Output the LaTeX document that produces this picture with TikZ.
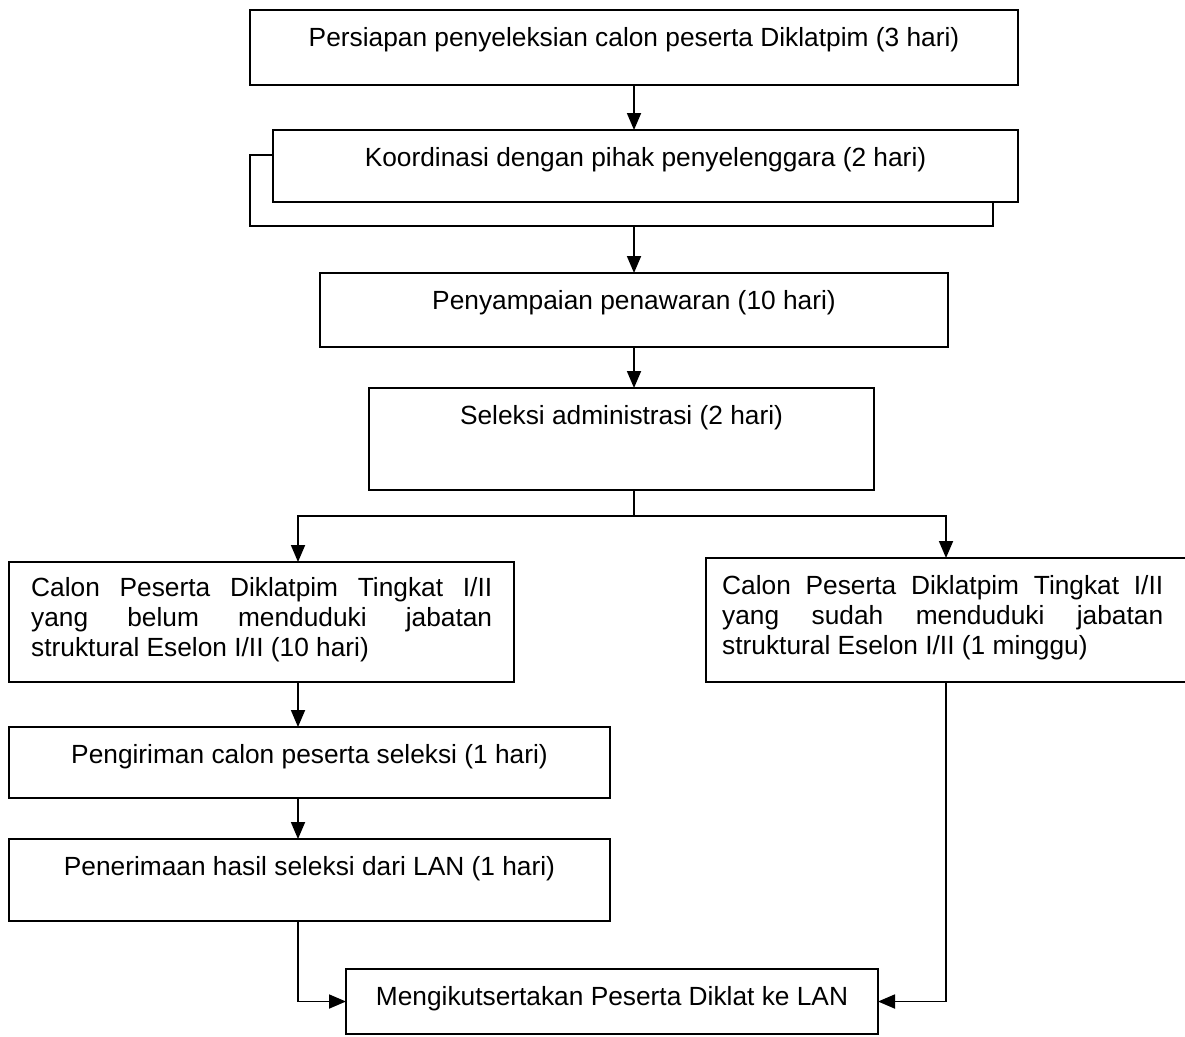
\documentclass[tikz,border=0pt]{standalone}
\usepackage{fontspec}
\setmainfont{Liberation Sans}
\usetikzlibrary{arrows.meta}
\begin{document}
\begin{tikzpicture}[x=1pt,y=-1pt,
  box/.style={draw=black, line width=1.8pt, rectangle, inner sep=0pt, outer sep=0pt, anchor=north west, fill=white},
  lbl/.style={anchor=base, inner sep=0pt, font=\fontsize{26.3}{30}\selectfont},
  lbw/.style={anchor=base west, inner sep=0pt, font=\fontsize{26.3}{30}\selectfont},
  arr/.style={line width=1.8pt, -{Triangle[length=17pt,width=14pt]}},
  ln/.style={line width=1.8pt}]
\useasboundingbox (0,0) rectangle (1185,1036);
\clip (0,0) rectangle (1185,1036);
% boxes
\node[box, minimum width=768pt, minimum height=75pt] (b1) at (250,10) {};
\node[box, minimum width=743pt, minimum height=71pt] (b2b) at (250,155) {};
\node[box, minimum width=745pt, minimum height=72pt] (b2) at (273,130) {};
\node[box, minimum width=628pt, minimum height=74pt] (b3) at (320,273) {};
\node[box, minimum width=505pt, minimum height=102pt] (b4) at (369,388) {};
\node[box, minimum width=505pt, minimum height=120pt] (L) at (9,562) {};
\node[box, minimum width=480pt, minimum height=124pt] (R) at (706,558) {};
\node[box, minimum width=601pt, minimum height=71pt] (P1) at (9,727) {};
\node[box, minimum width=601pt, minimum height=82pt] (P2) at (9,839) {};
\node[box, minimum width=532pt, minimum height=65pt] (M) at (346,969) {};
% texts
\node[lbl] (t1) at (634,46) {Persiapan penyeleksian calon peserta Diklatpim (3 hari)};
\node[lbl] (t2) at (645.5,166) {Koordinasi dengan pihak penyelenggara (2 hari)};
\node[lbl] (t3) at (634,309) {Penyampaian penawaran (10 hari)};
\node[lbl] (t4) at (621.5,424) {Seleksi administrasi (2 hari)};
\node[lbw] (tl1) at (31,596) {\makebox[461pt][s]{Calon Peserta Diklatpim Tingkat I/II}};
\node[lbw] (tl2) at (31,626) {\makebox[461pt][s]{yang belum menduduki jabatan}};
\node[lbw] (tl3) at (31,656) {struktural Eselon I/II (10 hari)};
\node[lbw] (tr1) at (722,594) {\makebox[441pt][s]{Calon Peserta Diklatpim Tingkat I/II}};
\node[lbw] (tr2) at (722,624) {\makebox[441pt][s]{yang sudah menduduki jabatan}};
\node[lbw] (tr3) at (722,654) {struktural Eselon I/II (1 minggu)};
\node[lbl] (t5) at (309.5,763) {Pengiriman calon peserta seleksi (1 hari)};
\node[lbl] (t6) at (309.5,875) {Penerimaan hasil seleksi dari LAN (1 hari)};
\node[lbl] (t7) at (612,1005) {Mengikutsertakan Peserta Diklat ke LAN};
% connectors
\coordinate (cl) at (298,0);
\draw[arr] (b1.south) -- (b1.south |- b2.north);
\draw[arr] (b1.south |- b2b.south) -- (b1.south |- b3.north);
\draw[arr] (b3.south) -- (b3.south |- b4.north);
\draw[ln] (b3.south |- b4.south) -- ++(0,26) coordinate (j);
\draw[arr] (j) -| (cl |- L.north);
\draw[arr] (j) -| (R.north);
\draw[arr] (cl |- L.south) -- (cl |- P1.north);
\draw[arr] (cl |- P1.south) -- (cl |- P2.north);
\draw[arr] (cl |- P2.south) |- (M.west);
\draw[arr] (R.south) |- (M.east);
\end{tikzpicture}
\end{document}
